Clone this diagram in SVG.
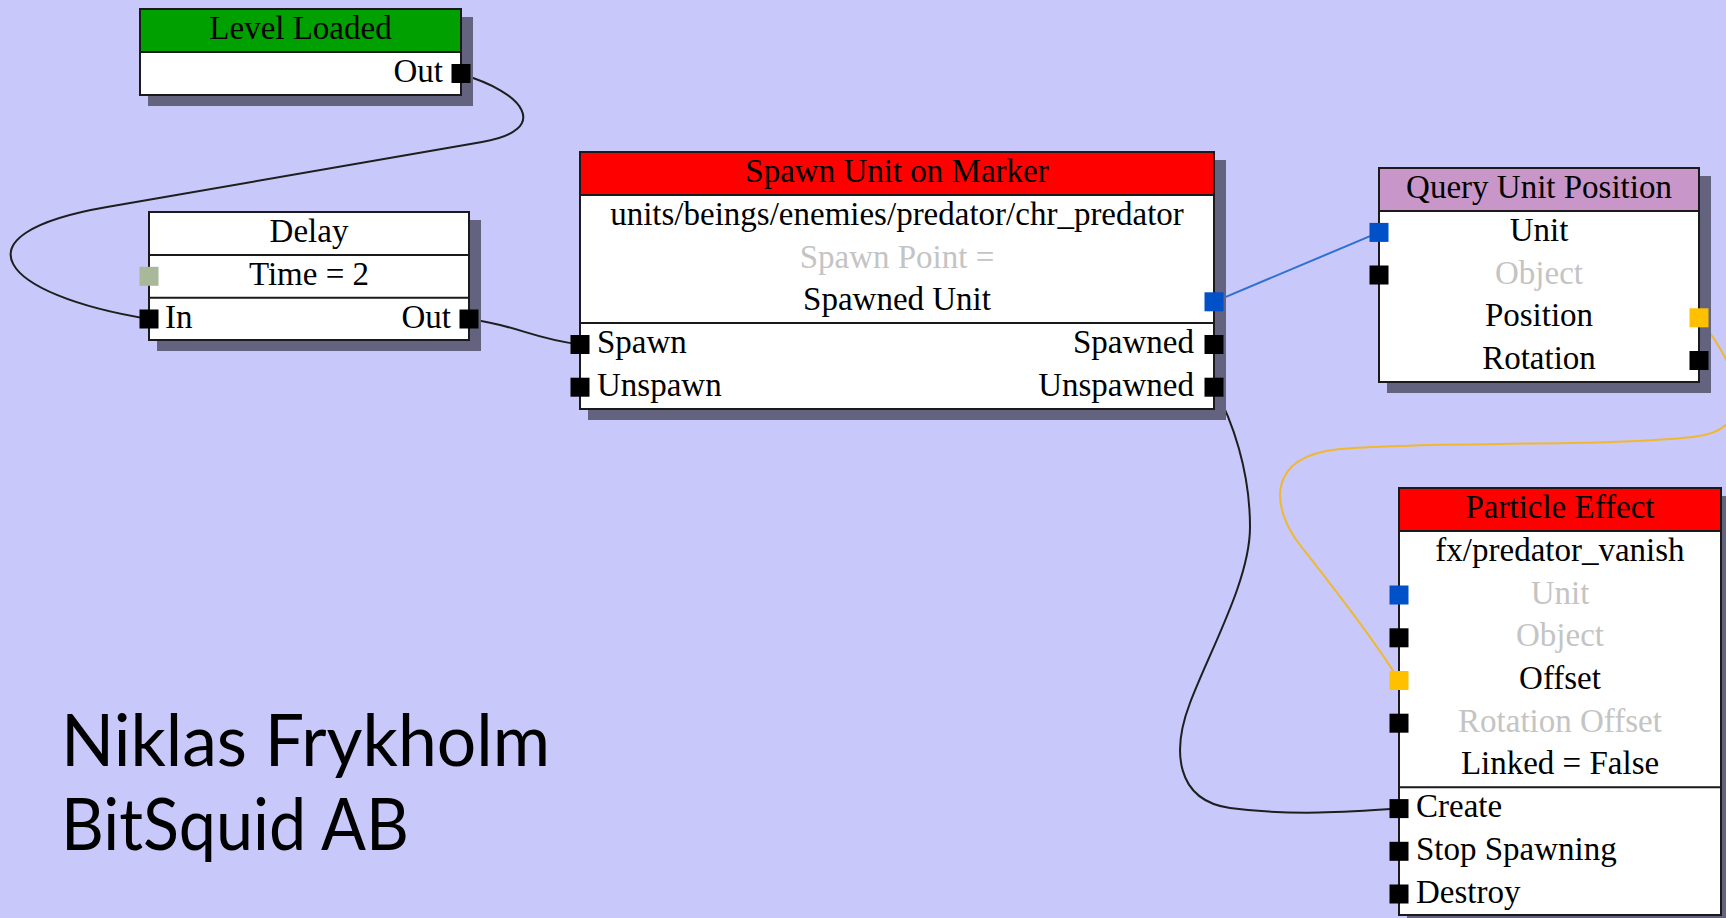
<svg xmlns="http://www.w3.org/2000/svg" width="1726" height="918" viewBox="0 0 1726 918">
<style>
.bg{fill:#c8c8fa}
.shadow{fill:#63637f}
.box{fill:#fff;stroke:#1a1a1a;stroke-width:2}
.sep{stroke:#1a1a1a;stroke-width:2}
text{font-family:"Liberation Serif","Times New Roman",serif;font-size:33px;fill:#000}
.c{text-anchor:middle}
.r{text-anchor:end}
.dim{fill:#c4c4c4}
.p{fill:#000}
.pb{fill:#0050c8}
.py{fill:#ffc000}
.pg{fill:#a8b898}
.wire{fill:none;stroke:#1e1e1e;stroke-width:2}
.wb{fill:none;stroke:#3070d0;stroke-width:2}
.wy{fill:none;stroke:#f0b830;stroke-width:2}
.name{font-family:Lato,"Open Sans",sans-serif;font-size:71px;fill:#000}
</style>
<rect class="bg" x="0" y="0" width="1726" height="918"/>

<g id="connectors">
<path class="wire" d="M460,74 C525,92 552,130 482,142 L107,207 C-50,234 0,295 149,319"/>
<path class="wire" d="M469,319 C520,326 530,338 580,344.5"/>
<path class="wb" d="M1214,301.8 L1379,232.4"/>
<path class="wy" d="M1699,317.8 C1740,370 1760,430 1693,437 C1600,447 1420,441 1340,449 C1260,457 1275,513 1300,545 C1325,577 1375,640 1399,680.5"/>
<path class="wire" d="M1214,387 C1232,420 1250,470 1250,527 C1250,580 1210,650 1190,703 C1172,750 1175,800 1230,808 C1290,816 1350,812 1399,808.6"/>
</g>

<g id="node-level-loaded">
<rect class="shadow" x="148" y="17" width="325" height="89"/>
<rect class="box" x="140" y="9" width="321" height="86"/>
<rect x="140" y="9" width="321" height="43" fill="#00a000" stroke="#1a1a1a" stroke-width="2"/>
<text class="c" x="300.5" y="39">Level Loaded</text>
<text class="r" x="443" y="82">Out</text>
<rect class="p" x="451.5" y="64" width="19" height="19"/>
</g>

<g id="node-delay">
<rect class="shadow" x="157" y="220" width="324" height="131"/>
<rect class="box" x="149" y="212" width="320" height="128"/>
<line class="sep" x1="149" y1="255" x2="469" y2="255"/>
<line class="sep" x1="149" y1="297.7" x2="469" y2="297.7"/>
<text class="c" x="309" y="242">Delay</text>
<text class="c" x="309" y="285">Time = 2</text>
<text x="165" y="327.5">In</text>
<text class="r" x="451" y="327.5">Out</text>
<rect class="pg" x="139.5" y="266.8" width="19" height="19"/>
<rect class="p" x="139.5" y="309.5" width="19" height="19"/>
<rect class="p" x="459.5" y="309.5" width="19" height="19"/>
</g>

<g id="node-spawn-unit">
<rect class="shadow" x="588" y="160" width="638" height="260"/>
<rect class="box" x="580" y="152" width="634" height="257"/>
<rect x="580" y="152" width="634" height="43" fill="#ff0000" stroke="#1a1a1a" stroke-width="2"/>
<line class="sep" x1="580" y1="323.1" x2="1214" y2="323.1"/>
<text class="c" x="897" y="182">Spawn Unit on Marker</text>
<text class="c" x="897" y="225">units/beings/enemies/predator/chr_predator</text>
<text class="c dim" x="897" y="267.5">Spawn Point =</text>
<text class="c" x="897" y="310.3">Spawned Unit</text>
<text x="597" y="353">Spawn</text>
<text class="r" x="1194" y="353">Spawned</text>
<text x="597" y="395.7">Unspawn</text>
<text class="r" x="1194" y="395.7">Unspawned</text>
<rect class="pb" x="1204.5" y="292.3" width="19" height="19"/>
<rect class="p" x="570.5" y="335" width="19" height="19"/>
<rect class="p" x="1204.5" y="335" width="19" height="19"/>
<rect class="p" x="570.5" y="377.7" width="19" height="19"/>
<rect class="p" x="1204.5" y="377.7" width="19" height="19"/>
</g>

<g id="node-query-unit-position">
<rect class="shadow" x="1387" y="176" width="324" height="217"/>
<rect class="box" x="1379" y="168" width="320" height="214"/>
<rect x="1379" y="168" width="320" height="43" fill="#c896c8" stroke="#1a1a1a" stroke-width="2"/>
<text class="c" x="1539" y="198">Query Unit Position</text>
<text class="c" x="1539" y="241">Unit</text>
<text class="c dim" x="1539" y="283.5">Object</text>
<text class="c" x="1539" y="326.3">Position</text>
<text class="c" x="1539" y="369">Rotation</text>
<rect class="pb" x="1369.5" y="222.9" width="19" height="19"/>
<rect class="p" x="1369.5" y="265.5" width="19" height="19"/>
<rect class="py" x="1689.5" y="308.3" width="19" height="19"/>
<rect class="p" x="1689.5" y="351" width="19" height="19"/>
</g>

<g id="node-particle-effect">
<rect class="shadow" x="1407" y="496" width="326" height="430"/>
<rect class="box" x="1399" y="488" width="322" height="427"/>
<rect x="1399" y="488" width="322" height="43" fill="#ff0000" stroke="#1a1a1a" stroke-width="2"/>
<line class="sep" x1="1399" y1="787.2" x2="1721" y2="787.2"/>
<text class="c" x="1560" y="518">Particle Effect</text>
<text class="c" x="1560" y="561">fx/predator_vanish</text>
<text class="c dim" x="1560" y="603.5">Unit</text>
<text class="c dim" x="1560" y="646.3">Object</text>
<text class="c" x="1560" y="689">Offset</text>
<text class="c dim" x="1560" y="731.7">Rotation Offset</text>
<text class="c" x="1560" y="774.4">Linked = False</text>
<text x="1416" y="817.1">Create</text>
<text x="1416" y="859.8">Stop Spawning</text>
<text x="1416" y="902.5">Destroy</text>
<rect class="pb" x="1389.5" y="585.5" width="19" height="19"/>
<rect class="p" x="1389.5" y="628.3" width="19" height="19"/>
<rect class="py" x="1389.5" y="671" width="19" height="19"/>
<rect class="p" x="1389.5" y="713.7" width="19" height="19"/>
<rect class="p" x="1389.5" y="799.1" width="19" height="19"/>
<rect class="p" x="1389.5" y="841.8" width="19" height="19"/>
<rect class="p" x="1389.5" y="884.5" width="19" height="19"/>
</g>

<g id="author">
<text class="name" x="61" y="766" textLength="489" lengthAdjust="spacingAndGlyphs">Niklas Frykholm</text>
<text class="name" x="61" y="850" textLength="348" lengthAdjust="spacingAndGlyphs">BitSquid AB</text>
</g>
</svg>
